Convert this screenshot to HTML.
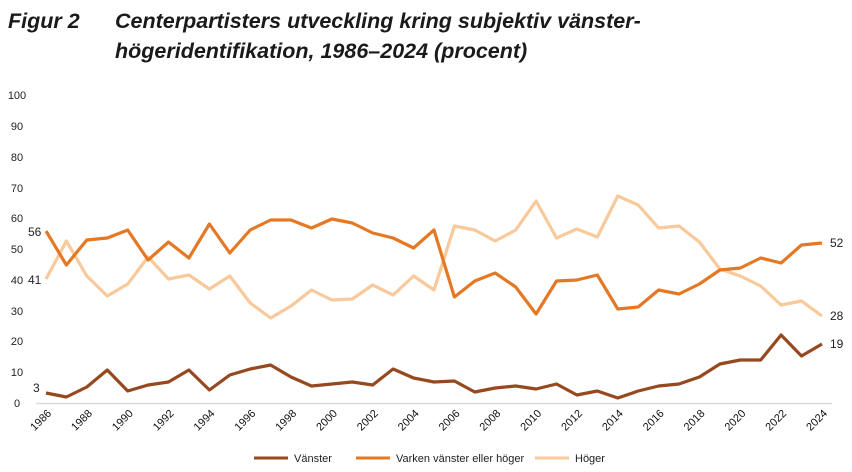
<!DOCTYPE html><html><head><meta charset="utf-8"><style>body{margin:0;background:#fff}svg{display:block;font-family:"Liberation Sans",Arial,sans-serif}</style></head><body>
<svg width="852" height="472" viewBox="0 0 852 472" xmlns="http://www.w3.org/2000/svg">
<text x="8" y="28" font-size="21.5" font-weight="bold" font-style="italic" fill="#1a1a1a">Figur 2</text>
<text x="115" y="28" font-size="21.5" font-weight="bold" font-style="italic" fill="#1a1a1a">Centerpartisters utveckling kring subjektiv vänster-</text>
<text x="115" y="58" font-size="21.5" font-weight="bold" font-style="italic" fill="#1a1a1a">högeridentifikation, 1986–2024 (procent)</text>
<g font-size="11" fill="#222" text-anchor="middle">
<text x="17" y="99">100</text><text x="17" y="130">90</text><text x="17" y="161">80</text><text x="17" y="192">70</text><text x="17" y="222">60</text><text x="17" y="253">50</text><text x="17" y="284">40</text><text x="17" y="315">30</text><text x="17" y="345">20</text><text x="17" y="376">10</text><text x="17" y="407">0</text>
</g>
<line x1="36" y1="403.5" x2="832" y2="403.5" stroke="#d9d9d9" stroke-width="1.5"/>
<g id="xt" font-size="11" fill="#111" text-anchor="end"></g>
<g fill="none" stroke-width="3.2" stroke-linejoin="round">
<polyline id="l" stroke="#f8c99a"/>
<polyline id="m" stroke="#e57824"/>
<polyline id="d" stroke="#96491f"/>
</g>
<g font-size="12" fill="#222">
<text x="28" y="236">56</text><text x="28" y="284">41</text><text x="33" y="392">3</text>
<text x="830" y="247">52</text><text x="830" y="320">28</text><text x="830" y="348">19</text>
</g>
<g font-size="11" fill="#222">
<line x1="254" y1="458" x2="288" y2="458" stroke="#96491f" stroke-width="3"/><text x="294" y="462">Vänster</text>
<line x1="356" y1="458" x2="390" y2="458" stroke="#e57824" stroke-width="3"/><text x="396" y="462">Varken vänster eller höger</text>
<line x1="535" y1="458" x2="569" y2="458" stroke="#f8c99a" stroke-width="3"/><text x="575" y="462">Höger</text>
</g>
</svg>
<script>
var d=[393,397,387,370,391,385,382,370,390,375,369,365,377,386,384,382,385,369,378,382,381,392,388,386,389,384,395,391,398,391,386,384,377,364,360,360,335,356,344];
var m=[231,265,240,238,230,260,242,258,224,253,230,220,220,228,219,223,233,238,248,230,297,281,273,287,314,281,280,275,309,307,290,294,284,270,268,258,263,245,243];
var l=[279,241,276,296,284,257,279,275,289,276,303,318,306,290,300,299,285,295,276,290,226,230,241,230,201,238,229,237,196,205,228,226,242,269,276,286,305,301,316];
function p(a){return a.map(function(y,i){return (46+20.42*i).toFixed(1)+','+y}).join(' ')}
document.getElementById('d').setAttribute('points',p(d));
document.getElementById('m').setAttribute('points',p(m));
document.getElementById('l').setAttribute('points',p(l));
var g=document.getElementById('xt'),s='';
for(var y=1986;y<=2024;y+=2){var x=46+20.42*(y-1986)+6;s+='<text transform="translate('+x+',414) rotate(-45)">'+y+'</text>';}
g.innerHTML=s;
</script>
</body></html>
